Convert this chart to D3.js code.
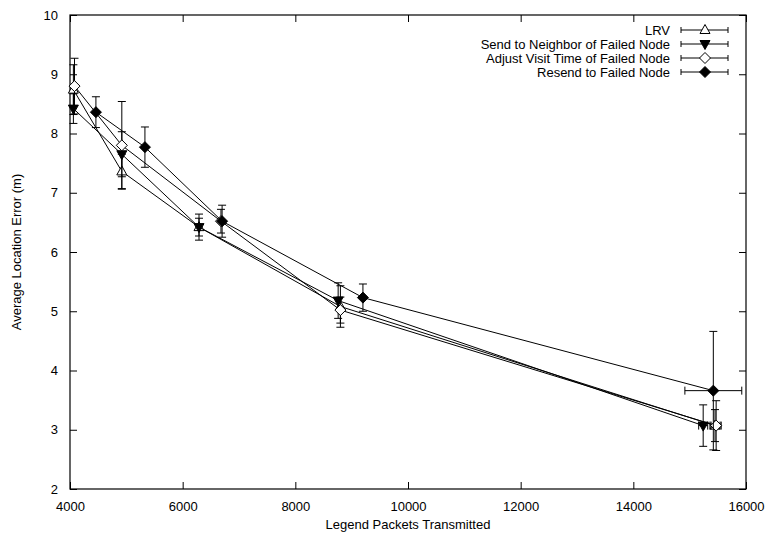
<!DOCTYPE html>
<html>
<head>
<meta charset="utf-8">
<script src="https://cdn.jsdelivr.net/npm/d3@7"></script>
<style>
  body { margin: 0; background: #fff; }
  text { font-family: "Liberation Sans", Arial, sans-serif; }
</style>
</head>
<body>
<script>
var w = 768;
var h = 537;
var margin = {top: 15, right: 22, bottom: 48, left: 70};

var seriesNames = ["LRV", "Send to Neighbor of Failed Node", "Adjust Visit Time of Failed Node", "Resend to Failed Node"];
var seriesMarks = ["triUpOpen", "triDownFilled", "diamondOpen", "diamondFilled"];

var lrvX    = [4060, 4920, 6290, 8800, 15450];
var lrvY    = [8.74, 7.36, 6.42, 5.08, 3.07];
var lrvYErr = [0.42, 0.29, 0.22, 0.35, 0.27];
var lrvXErr = [0, 0, 0, 0, 90];

var sendX    = [4060, 4920, 6290, 8760, 15240];
var sendY    = [8.42, 7.65, 6.42, 5.18, 3.07];
var sendYErr = [0.25, 0.38, 0.15, 0.30, 0.35];
var sendXErr = [0, 0, 0, 0, 80];

var adjX    = [4080, 4920, 6680, 8800, 15470];
var adjY    = [8.80, 7.80, 6.52, 5.02, 3.07];
var adjYErr = [0.47, 0.74, 0.20, 0.22, 0.42];
var adjXErr = [0, 0, 0, 0, 90];

var resX    = [4460, 5330, 6700, 9200, 15420];
var resY    = [8.36, 7.77, 6.52, 5.23, 3.66];
var resYErr = [0.26, 0.34, 0.27, 0.23, 1.00];
var resXErr = [0, 0, 0, 0, 505];

var xTicks = [4000, 6000, 8000, 10000, 12000, 14000, 16000];
var yTicks = [2, 3, 4, 5, 6, 7, 8, 9, 10];

function pack(xs, ys, ye, xe) {
  return xs.map(function(x, i) { return {x: x, y: ys[i], ye: ye[i], xe: xe[i]}; });
}
var series = [
  pack(lrvX, lrvY, lrvYErr, lrvXErr),
  pack(sendX, sendY, sendYErr, sendXErr),
  pack(adjX, adjY, adjYErr, adjXErr),
  pack(resX, resY, resYErr, resXErr)
];

var svg = d3.select("body").append("svg")
            .attr("width", w)
            .attr("height", h);

var x = d3.scaleLinear().domain([4000, 16000]).range([margin.left, w - margin.right]);
var y = d3.scaleLinear().domain([2, 10]).range([h - margin.bottom, margin.top]);

var tickLen = 7;

// axes (ticks inward, mirrored)
svg.append("g")
   .attr("transform", "translate(0," + y(2) + ")")
   .call(d3.axisBottom(x).tickValues(xTicks).tickFormat(d3.format("d")).tickSize(-tickLen).tickPadding(tickLen + 6).tickSizeOuter(0))
   .call(function(g) { g.select(".domain").remove(); });
svg.append("g")
   .attr("transform", "translate(0," + y(10) + ")")
   .call(d3.axisTop(x).tickValues(xTicks).tickSize(-tickLen).tickFormat("").tickSizeOuter(0))
   .call(function(g) { g.select(".domain").remove(); });
svg.append("g")
   .attr("transform", "translate(" + x(4000) + ",0)")
   .call(d3.axisLeft(y).tickValues(yTicks).tickSize(-tickLen).tickPadding(tickLen + 5).tickSizeOuter(0))
   .call(function(g) { g.select(".domain").remove(); });
svg.append("g")
   .attr("transform", "translate(" + x(16000) + ",0)")
   .call(d3.axisRight(y).tickValues(yTicks).tickSize(-tickLen).tickFormat("").tickSizeOuter(0))
   .call(function(g) { g.select(".domain").remove(); });

svg.selectAll(".tick line").attr("stroke", "#000");
svg.selectAll(".tick text").attr("font-size", "13px").attr("fill", "#000")
   .attr("font-family", "'Liberation Sans', Arial, sans-serif");

svg.append("rect")
   .attr("x", x(4000)).attr("y", y(10))
   .attr("width", x(16000) - x(4000)).attr("height", y(2) - y(10))
   .attr("fill", "none").attr("stroke", "#000").attr("stroke-width", 1.2);

// axis titles
svg.append("text")
   .attr("x", (x(4000) + x(16000)) / 2).attr("y", h - 8)
   .attr("text-anchor", "middle").attr("font-size", "13px")
   .text("Legend Packets Transmitted");
svg.append("text")
   .attr("transform", "translate(21," + (y(6)) + ") rotate(-90)")
   .attr("text-anchor", "middle").attr("font-size", "13px")
   .text("Average Location Error (m)");

function markPath(kind) {
  if (kind === "triUpOpen") return "M0,-5.5L5,3.5L-5,3.5Z";
  if (kind === "triDownFilled") return "M0,5.5L5,-3.5L-5,-3.5Z";
  return "M0,-5.5L5.5,0L0,5.5L-5.5,0Z";
}
function markFill(kind) {
  return (kind === "triUpOpen" || kind === "diamondOpen") ? "#fff" : "#000";
}

var line = d3.line().x(function(d) { return x(d.x); }).y(function(d) { return y(d.y); });
var cap = 4;

series.forEach(function(data, si) {
  var g = svg.append("g");
  g.append("path").datum(data)
   .attr("d", line).attr("fill", "none").attr("stroke", "#000").attr("stroke-width", 1);

  // vertical error bars
  var eb = g.selectAll(".eb").data(data).enter().append("g");
  eb.append("line")
    .attr("x1", function(d) { return x(d.x); }).attr("x2", function(d) { return x(d.x); })
    .attr("y1", function(d) { return y(d.y - d.ye); }).attr("y2", function(d) { return y(d.y + d.ye); })
    .attr("stroke", "#000");
  eb.append("line")
    .attr("x1", function(d) { return x(d.x) - cap; }).attr("x2", function(d) { return x(d.x) + cap; })
    .attr("y1", function(d) { return y(d.y + d.ye); }).attr("y2", function(d) { return y(d.y + d.ye); })
    .attr("stroke", "#000");
  eb.append("line")
    .attr("x1", function(d) { return x(d.x) - cap; }).attr("x2", function(d) { return x(d.x) + cap; })
    .attr("y1", function(d) { return y(d.y - d.ye); }).attr("y2", function(d) { return y(d.y - d.ye); })
    .attr("stroke", "#000");

  // horizontal error bars
  var xb = g.selectAll(".xb").data(data.filter(function(d) { return d.xe > 0; })).enter().append("g");
  xb.append("line")
    .attr("x1", function(d) { return x(d.x - d.xe); }).attr("x2", function(d) { return x(d.x + d.xe); })
    .attr("y1", function(d) { return y(d.y); }).attr("y2", function(d) { return y(d.y); })
    .attr("stroke", "#000");
  xb.append("line")
    .attr("x1", function(d) { return x(d.x - d.xe); }).attr("x2", function(d) { return x(d.x - d.xe); })
    .attr("y1", function(d) { return y(d.y) - cap; }).attr("y2", function(d) { return y(d.y) + cap; })
    .attr("stroke", "#000");
  xb.append("line")
    .attr("x1", function(d) { return x(d.x + d.xe); }).attr("x2", function(d) { return x(d.x + d.xe); })
    .attr("y1", function(d) { return y(d.y) - cap; }).attr("y2", function(d) { return y(d.y) + cap; })
    .attr("stroke", "#000");

  g.selectAll(".mk").data(data).enter().append("path")
   .attr("transform", function(d) { return "translate(" + x(d.x) + "," + y(d.y) + ")"; })
   .attr("d", markPath(seriesMarks[si]))
   .attr("fill", markFill(seriesMarks[si]))
   .attr("stroke", "#000").attr("stroke-width", 1);
});

// legend
var legY = [30, 44, 58, 72];
var lg = svg.selectAll(".leg").data(seriesNames).enter().append("g")
            .attr("transform", function(d, i) { return "translate(0," + legY[i] + ")"; });
lg.append("text")
  .attr("x", 670).attr("y", 0).attr("dy", "0.35em")
  .attr("text-anchor", "end").attr("font-size", "13px")
  .text(function(d) { return d; });
lg.append("line").attr("x1", 681).attr("x2", 728).attr("y1", 0).attr("y2", 0).attr("stroke", "#000");
lg.append("line").attr("x1", 681).attr("x2", 681).attr("y1", -3).attr("y2", 3).attr("stroke", "#000");
lg.append("line").attr("x1", 728).attr("x2", 728).attr("y1", -3).attr("y2", 3).attr("stroke", "#000");
lg.append("path")
  .attr("transform", "translate(705,0)")
  .attr("d", function(d, i) { return markPath(seriesMarks[i]); })
  .attr("fill", function(d, i) { return markFill(seriesMarks[i]); })
  .attr("stroke", "#000");
</script>
</body>
</html>
